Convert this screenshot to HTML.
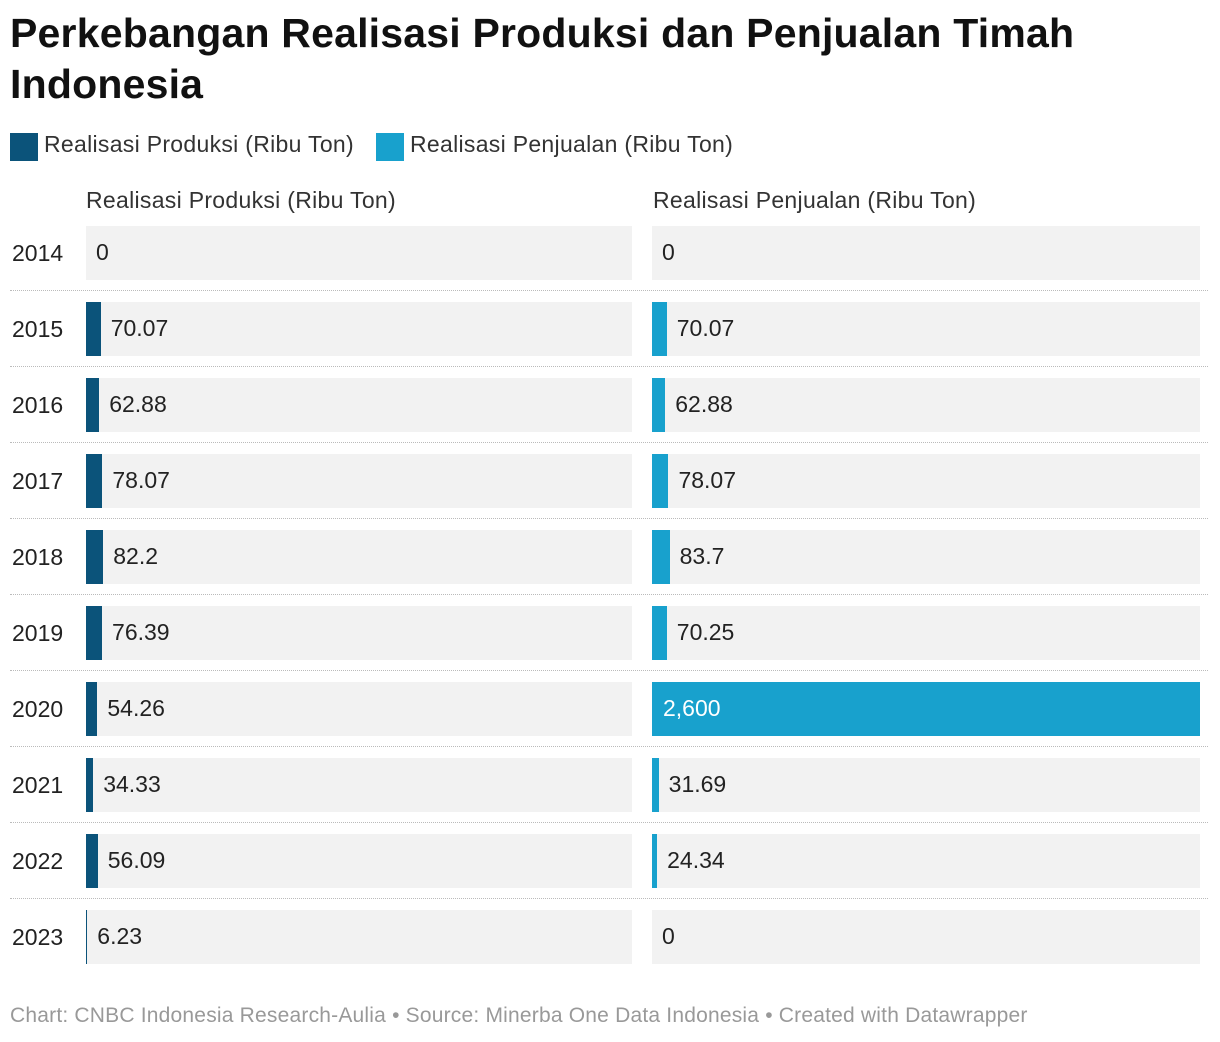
<!DOCTYPE html>
<html><head><meta charset="utf-8"><style>
body{margin:0;width:1220px;height:1042px;background:#fff;font-family:"Liberation Sans",sans-serif;position:relative;overflow:hidden;color:#222}
.abs{position:absolute}
h1{position:absolute;left:10px;top:8px;margin:0;font-size:41px;line-height:51px;font-weight:bold;color:#111;letter-spacing:0.2px}
.leg{font-size:23px;color:#333;top:131px;letter-spacing:0.3px}
.sw{width:28px;height:28px;top:133px}
.hdr{font-size:23px;color:#333;top:187px;letter-spacing:0.3px}
.yr{font-size:23px;color:#222;left:12px}
.bg{background:#f2f2f2;height:54px}
.val{font-size:23px;color:#222;line-height:54px}
.sep{left:10px;width:1198px;border-top:1px dotted #bbb;height:0}
.foot{left:10px;top:1004px;font-size:21px;color:#999;letter-spacing:0.2px}
</style></head><body>
<h1>Perkebangan Realisasi Produksi dan Penjualan Timah<br>Indonesia</h1>
<div class="abs sw" style="left:10px;background:#0b537a"></div>
<div class="abs leg" style="left:44px">Realisasi Produksi (Ribu Ton)</div>
<div class="abs sw" style="left:376px;background:#18a1cd"></div>
<div class="abs leg" style="left:410px">Realisasi Penjualan (Ribu Ton)</div>
<div class="abs hdr" style="left:86px">Realisasi Produksi (Ribu Ton)</div>
<div class="abs hdr" style="left:653px">Realisasi Penjualan (Ribu Ton)</div>
<div id="rows"></div>
<div class="abs foot">Chart: CNBC Indonesia Research-Aulia • Source: Minerba One Data Indonesia • Created with Datawrapper</div>
<script>
const years=["2014","2015","2016","2017","2018","2019","2020","2021","2022","2023"];
const produksi=[0,70.07,62.88,78.07,82.2,76.39,54.26,34.33,56.09,6.23];
const penjualan=[0,70.07,62.88,78.07,83.7,70.25,2600,31.69,24.34,0];
const produksiLabels=["0","70.07","62.88","78.07","82.2","76.39","54.26","34.33","56.09","6.23"];
const penjualanLabels=["0","70.07","62.88","78.07","83.7","70.25","2,600","31.69","24.34","0"];
const maxV=2600;
const root=document.getElementById('rows');
function mk(cls,style){const d=document.createElement('div');d.className='abs '+cls;d.style.cssText=style;root.appendChild(d);return d;}
const cols=[{x:86,w:546,vals:produksi,labs:produksiLabels,color:'#0b537a',n:'produksi'},{x:652,w:548,vals:penjualan,labs:penjualanLabels,color:'#18a1cd',n:'penjualan'}];
years.forEach((y,i)=>{
  const top=226+i*76;
  const yl=mk('yr','top:'+(top+14)+'px');yl.textContent=y;
  
  
  if(i>0){const s=mk('sep','top:'+(top-12)+'px');
    
    }
  cols.forEach(c=>{
    const bg=mk('bg','left:'+c.x+'px;top:'+top+'px;width:'+c.w+'px');
    
    
    const bw=c.vals[i]/maxV*c.w;
    if(bw>0){const b=mk('','left:'+c.x+'px;top:'+top+'px;width:'+Math.max(bw,1.3)+'px;height:54px;background:'+c.color);
      
      }
    const inside=bw>c.w*0.5;
    const lx=inside?c.x+11:c.x+bw+10;
    const v=mk('val','left:'+lx+'px;top:'+(top-1)+'px;color:'+(inside?'#fff':'#222'));
    v.textContent=c.labs[i];
    
    
  });
});
</script>
</body></html>
